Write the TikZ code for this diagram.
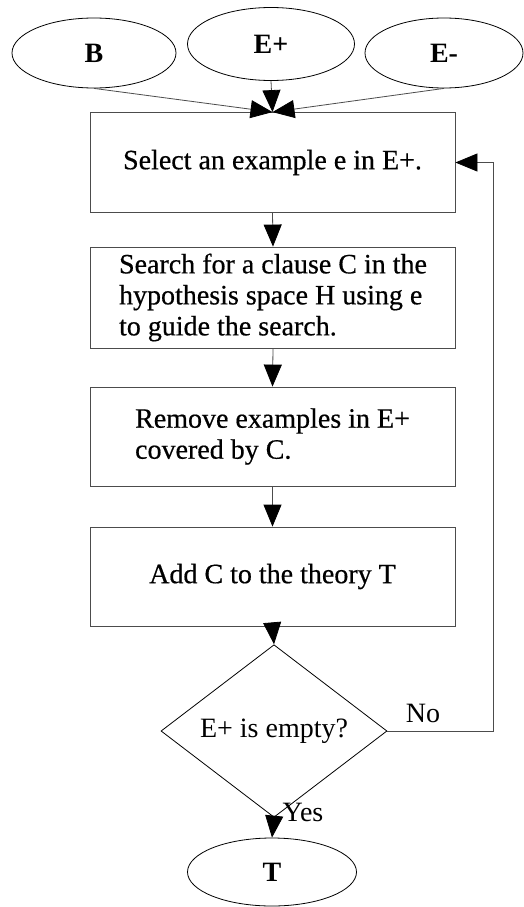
\documentclass[tikz,border=0pt]{standalone}
\usepackage{fontspec}
\setmainfont{Liberation Serif}
\newfontfamily\heavyserif[FakeBold=0.5]{Liberation Serif}
\usetikzlibrary{shapes.geometric,arrows.meta}
\begin{document}
\begin{tikzpicture}[x=1pt,y=-1pt,
  every node/.style={font=\fontsize{28}{31}\selectfont, inner sep=0pt},
  oval/.style={ellipse, draw=black, line width=0.8pt, font=\fontsize{28}{31}\selectfont\bfseries},
  stepbox/.style={rectangle, draw=black!70, line width=0.8pt, minimum width=365pt, minimum height=100pt,
    font=\fontsize{28}{31}\heavyserif},
  decision/.style={diamond, draw=black, line width=0.8pt, minimum width=226pt, minimum height=131pt},
  flow/.style={draw=black!70, line width=0.8pt,
    -{Triangle[length=22pt,width=18pt,color=black,fill=black]}},
  lbl/.style={font=\fontsize{28}{31}\selectfont}
]
\useasboundingbox (0,0) rectangle (524,907);
\fill[white] (0,0) rectangle (524,907);

% inputs
\node[oval, minimum width=164pt, minimum height=70pt] (B) at (94,53) {B};
\node[oval, minimum width=167pt, minimum height=73pt] (Ep) at (271,44) {E+};
\node[oval, minimum width=158pt, minimum height=70pt] (Em) at (444,53) {E-};

% main steps
\node[stepbox] (s1) at (272.5,162.5) {Select an example e in E+.};
\node[stepbox, minimum height=101pt, align=left] (s2) at (273,297.5)
  {Search for a clause C in the\\hypothesis space H using e\\to guide the search.};
\node[stepbox, minimum height=99pt, align=left] (s3) at (272.5,436.5)
  {Remove examples in E+\\covered by C.};
\node[stepbox, minimum height=99pt] (s4) at (272.5,576.5) {Add C to the theory T};

% test and result
\node[decision] (d) at (274,731) {E+ is empty?};
\node[oval, minimum width=169pt, minimum height=68pt] (T) at (272,872) {T};
\coordinate (back) at (493,731);

% connectors
\draw[flow] (B.south) -- (s1.north);
\draw[flow] (Ep.south) -- (s1.north);
\draw[flow] (Em.south) -- (s1.north);
\draw[flow] (s1.south) -- (s2.north);
\draw[flow] (s2.south) -- (s3.north);
\draw[flow] (s3.south) -- (s4.north);
\draw[flow] (s4.south) -- (d.north);
\draw[flow] (d.east) -- (back) |- (s1.east);
\draw[flow] (d.south) -- (T.north);

% branch labels
\node[lbl] (no) at (423,713) {No};
\node[lbl] (yes) at (303,812) {Yes};
\end{tikzpicture}
\end{document}
